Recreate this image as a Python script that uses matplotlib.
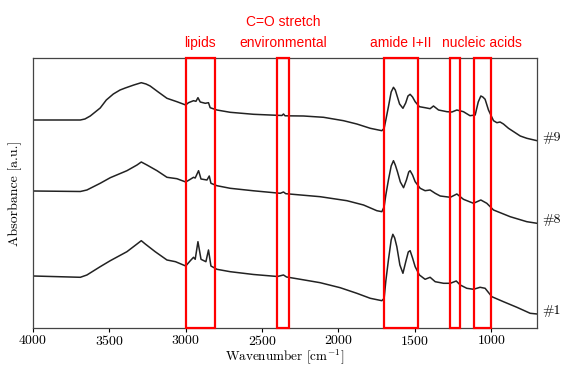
import matplotlib
matplotlib.use("Agg")
import matplotlib.pyplot as plt
from matplotlib.patches import Rectangle
import matplotlib.transforms as mtransforms

plt.rcParams['font.family'] = 'serif'
plt.rcParams['font.serif'] = ['cmr10', 'DejaVu Serif']
plt.rcParams['mathtext.fontset'] = 'cm'
plt.rcParams['axes.formatter.use_mathtext'] = True
plt.rcParams['axes.unicode_minus'] = False

# spectra (wavenumber [cm-1], offset absorbance)
wn9 = [4000, 3850, 3690, 3660, 3625, 3560, 3520, 3474, 3430, 3396, 3340, 3291,
       3260, 3233, 3180, 3123, 3058, 3000,
       2982, 2949, 2933, 2920, 2905, 2872, 2851, 2840, 2796, 2709, 2556, 2403,
       2370, 2360, 2350, 2229, 2098, 1967, 1880, 1792, 1716, 1701, 1690, 1673,
       1655, 1640, 1628, 1618, 1600, 1578, 1560, 1545, 1531, 1515, 1498, 1470,
       1433, 1400, 1378, 1345, 1290, 1257, 1225,
       1182, 1139, 1105, 1085, 1068, 1055, 1040, 1018, 985, 963, 942, 920, 887,
       810, 767, 700]
ab9 = [2.08, 2.08, 2.08, 2.09, 2.12, 2.20, 2.28, 2.34, 2.38, 2.40, 2.43, 2.453,
       2.44, 2.42, 2.36, 2.297, 2.263, 2.23,
       2.253, 2.273, 2.267, 2.303, 2.26, 2.247, 2.253, 2.203, 2.18, 2.157, 2.137, 2.127,
       2.125, 2.14, 2.122, 2.12, 2.107, 2.073, 2.04, 1.997, 1.973, 1.997, 2.08, 2.213,
       2.36, 2.407, 2.38, 2.33, 2.24, 2.197, 2.25, 2.32, 2.337, 2.31, 2.263, 2.213,
       2.203, 2.193, 2.22, 2.18, 2.163, 2.16, 2.18,
       2.163, 2.123, 2.13, 2.26, 2.32, 2.31, 2.287, 2.18, 2.073, 2.053, 2.06, 2.04, 1.997,
       1.92, 1.897, 1.873]

wn8 = [4000, 3690, 3647, 3560, 3494, 3385, 3319, 3291, 3254, 3188, 3123, 3058,
       3000, 2970, 2949, 2938, 2916, 2900, 2861, 2846, 2835, 2796, 2709, 2556,
       2381, 2360, 2345, 2120, 1945, 1836, 1749, 1716, 1701, 1690, 1673, 1655,
       1640, 1628, 1614, 1595, 1574, 1555, 1540, 1531, 1515, 1498, 1465, 1433,
       1400, 1367, 1334, 1268, 1225, 1182, 1116,
       1068, 1029, 985, 876, 767, 700]
ab8 = [1.37, 1.365, 1.38, 1.447, 1.503, 1.573, 1.63, 1.66, 1.63, 1.573, 1.507, 1.493,
       1.46, 1.487, 1.507, 1.50, 1.573, 1.49, 1.48, 1.52, 1.447, 1.423, 1.397, 1.372,
       1.347, 1.36, 1.343, 1.313, 1.273, 1.23, 1.173, 1.163, 1.213, 1.33, 1.48, 1.62,
       1.673, 1.63, 1.563, 1.46, 1.403, 1.48, 1.56, 1.573, 1.53, 1.463, 1.397, 1.373,
       1.38, 1.347, 1.32, 1.307, 1.34, 1.287, 1.247,
       1.28, 1.247, 1.18, 1.113, 1.063, 1.047]

wn1 = [4000, 3690, 3647, 3560, 3494, 3385, 3319, 3291, 3265, 3200, 3123, 3067,
       3000, 2970, 2949, 2938, 2920, 2900, 2868, 2851, 2835, 2796, 2709, 2556,
       2400, 2360, 2340, 2250, 2120, 1989, 1880, 1792, 1716, 1701, 1690, 1673,
       1655, 1644, 1632, 1618, 1598, 1578, 1560, 1543, 1531, 1515, 1498, 1470,
       1433, 1400, 1367, 1312, 1268, 1229, 1203,
       1160, 1116, 1073, 1040, 996, 920, 832, 745, 700]
ab1 = [0.52, 0.507, 0.53, 0.613, 0.673, 0.763, 0.84, 0.873, 0.84, 0.763, 0.68, 0.663,
       0.62, 0.673, 0.707, 0.687, 0.863, 0.687, 0.663, 0.78, 0.62, 0.587, 0.563, 0.535,
       0.515, 0.53, 0.51, 0.487, 0.453, 0.403, 0.347, 0.297, 0.273, 0.297, 0.47, 0.68,
       0.88, 0.937, 0.9, 0.813, 0.63, 0.547, 0.66, 0.76, 0.773, 0.7, 0.613, 0.53,
       0.487, 0.507, 0.463, 0.447, 0.447, 0.47, 0.43,
       0.397, 0.387, 0.407, 0.397, 0.313, 0.263, 0.207, 0.147, 0.14]

spectra = [(wn9, ab9, '#9'), (wn8, ab8, '#8'), (wn1, ab1, '#1')]

# marked bands: (high wn, low wn)
bands = [(3000, 2810), (2400, 2325), (1700, 1480), (1272, 1205), (1115, 1000)]
band_labels = [('lipids', 2905), ('C=O stretch', 2362), ('environmental', 2362),
               ('amide I+II', 1590), ('nucleic acids', 1064)]

fig = plt.figure(figsize=(5.61, 3.65), dpi=100)
ax = fig.add_axes([0.0588, 0.1014, 0.8985, 0.7397])

for wn, ab, name in spectra:
    ax.plot(wn, ab, color='#222222', lw=1.1)

ax.set_xlim(4000, 700)
ax.set_ylim(0, 2.7)
ax.set_xticks([4000, 3500, 3000, 2500, 2000, 1500, 1000])
ax.tick_params(axis='x', labelsize=10, length=3, direction='out', pad=1)
ax.yaxis.tick_right()
ax.set_yticks([ab[-1] + 0.045 for wn, ab, name in spectra])
ax.set_yticklabels([name for wn, ab, name in spectra])
ax.tick_params(axis='y', length=0, pad=4, labelsize=10)
for sp in ax.spines.values():
    sp.set_color('#444444')
    sp.set_linewidth(0.9)

ax.set_xlabel(r'Wavenumber [cm$^{-1}$]', fontsize=9.5)
ax.xaxis.set_label_coords(0.5, -0.072)
ax.yaxis.set_label_position('left')
ax.set_ylabel('Absorbance [a.u.]', fontsize=10, labelpad=8)

trans = mtransforms.blended_transform_factory(ax.transData, ax.transAxes)
for hi, lo in bands:
    ax.add_patch(Rectangle((hi, 0), lo - hi, 1, transform=trans, fill=False,
                           edgecolor='red', lw=1.6, clip_on=False, zorder=5))

label_y = [1.056, 1.135, 1.056, 1.056, 1.056]
for (txt, x), y in zip(band_labels, label_y):
    ax.text(x, y, txt, transform=trans, color='red', ha='center', va='center',
            fontsize=10, family='Liberation Sans')

fig.savefig('out.png', dpi=100)
